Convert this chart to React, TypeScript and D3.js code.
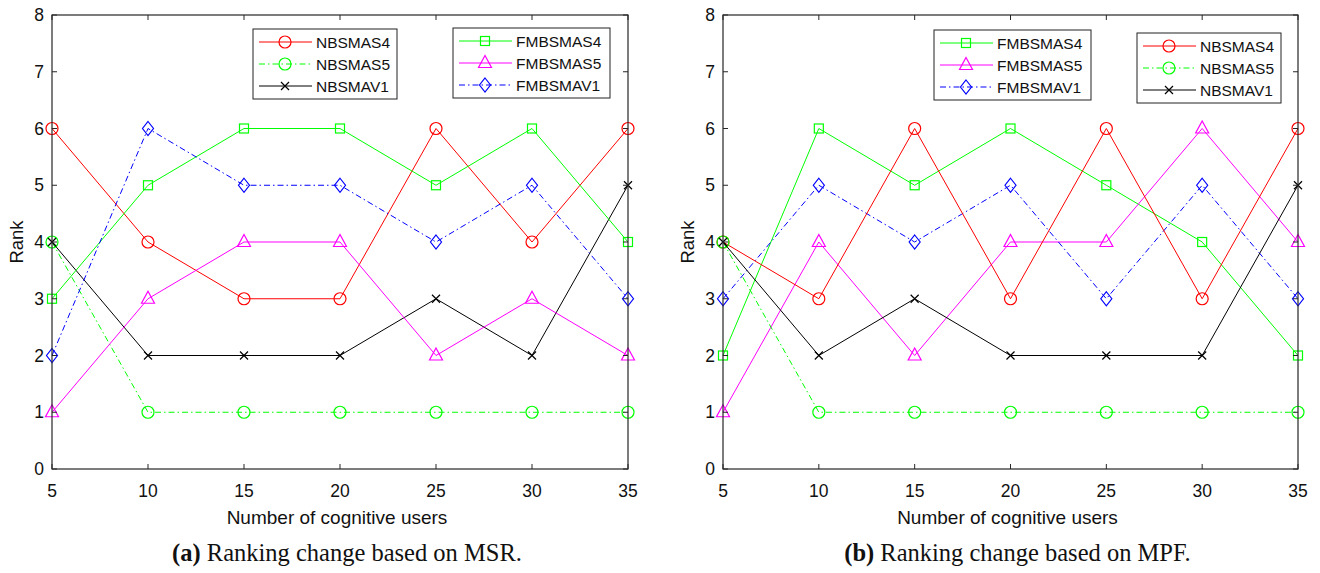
import React from 'react';
import * as d3 from 'd3';

const users = [5, 10, 15, 20, 25, 30, 35];
const rankTicks = [0, 1, 2, 3, 4, 5, 6, 7, 8];

// (a) MSR
const msrNBSMAS4 = [6, 4, 3, 3, 6, 4, 6];
const msrNBSMAS5 = [4, 1, 1, 1, 1, 1, 1];
const msrNBSMAV1 = [4, 2, 2, 2, 3, 2, 5];
const msrFMBSMAS4 = [3, 5, 6, 6, 5, 6, 4];
const msrFMBSMAS5 = [1, 3, 4, 4, 2, 3, 2];
const msrFMBSMAV1 = [2, 6, 5, 5, 4, 5, 3];

// (b) MPF
const mpfFMBSMAS4 = [2, 6, 5, 6, 5, 4, 2];
const mpfFMBSMAS5 = [1, 4, 2, 4, 4, 6, 4];
const mpfFMBSMAV1 = [3, 5, 4, 5, 3, 5, 3];
const mpfNBSMAS4 = [4, 3, 6, 3, 6, 3, 6];
const mpfNBSMAS5 = [4, 1, 1, 1, 1, 1, 1];
const mpfNBSMAV1 = [4, 2, 3, 2, 2, 2, 5];

type Marker = 'circle' | 'square' | 'triangle' | 'diamond' | 'x';
type Series = { name: string; values: number[]; color: string; marker: Marker; dashed: boolean };

const style: Record<string, { color: string; marker: Marker; dashed: boolean }> = {
  NBSMAS4: { color: '#ff0000', marker: 'circle', dashed: false },
  NBSMAS5: { color: '#00ff00', marker: 'circle', dashed: true },
  NBSMAV1: { color: '#000000', marker: 'x', dashed: false },
  FMBSMAS4: { color: '#00ff00', marker: 'square', dashed: false },
  FMBSMAS5: { color: '#ff00ff', marker: 'triangle', dashed: false },
  FMBSMAV1: { color: '#0000ff', marker: 'diamond', dashed: true },
};

const mk = (name: string, values: number[]): Series => ({ name, values, ...style[name] });

const FONT = 'Liberation Sans, Arial, Helvetica, sans-serif';
const DASH = '6,3,1.5,3';

function MarkerShape({ m, x, y, c }: { m: Marker; x: number; y: number; c: string }) {
  const sw = 1.2;
  if (m === 'circle') return <circle cx={x} cy={y} r={6} fill="none" stroke={c} strokeWidth={sw} />;
  if (m === 'square') return <rect x={x - 4.5} y={y - 4.5} width={9} height={9} fill="none" stroke={c} strokeWidth={sw} />;
  if (m === 'triangle')
    return <path d={`M${x},${y - 7.5}L${x + 6.5},${y + 4.5}L${x - 6.5},${y + 4.5}Z`} fill="none" stroke={c} strokeWidth={sw} />;
  if (m === 'diamond')
    return <path d={`M${x},${y - 7}L${x + 5.5},${y}L${x},${y + 7}L${x - 5.5},${y}Z`} fill="none" stroke={c} strokeWidth={sw} />;
  return <path d={`M${x - 4},${y - 4}L${x + 4},${y + 4}M${x - 4},${y + 4}L${x + 4},${y - 4}`} stroke={c} strokeWidth={sw} />;
}

function Legend({ x, y, w, items }: { x: number; y: number; w: number; items: Series[] }) {
  return (
    <g transform={`translate(${x},${y})`}>
      <rect x={0} y={0} width={w} height={70} fill="#fff" stroke="#222" strokeWidth={1} />
      {items.map((s, i) => {
        const ly = 13 + i * 22;
        return (
          <g key={s.name}>
            <line x1={6} x2={59} y1={ly} y2={ly} stroke={s.color} strokeWidth={1} strokeDasharray={s.dashed ? DASH : undefined} />
            <MarkerShape m={s.marker} x={32} y={ly} c={s.color} />
            <text x={63} y={ly + 5.5} fontSize={15.5} fontFamily={FONT} fill="#111">{s.name}</text>
          </g>
        );
      })}
    </g>
  );
}

function Panel({ x0, x1, series, legends, label, caption }: {
  x0: number; x1: number; series: Series[];
  legends: { x: number; y: number; w: number; items: Series[] }[];
  label: string; caption: string;
}) {
  const top = 15, bottom = 469;
  const x = d3.scaleLinear().domain([5, 35]).range([x0, x1]);
  const y = d3.scaleLinear().domain([0, 8]).range([bottom, top]);
  const line = d3.line<number>().x((_, i) => x(users[i])).y(d => y(d));
  const cx = (x0 + x1) / 2;
  return (
    <g>
      {series.map(s => (
        <g key={s.name}>
          <path d={line(s.values) || ''} fill="none" stroke={s.color} strokeWidth={1} strokeDasharray={s.dashed ? DASH : undefined} />
          {s.values.map((v, i) => <MarkerShape key={i} m={s.marker} x={x(users[i])} y={y(v)} c={s.color} />)}
        </g>
      ))}
      <rect x={x0} y={top} width={x1 - x0} height={bottom - top} fill="none" stroke="#262626" strokeWidth={1.2} />
      {users.map(u => (
        <g key={u}>
          <line x1={x(u)} x2={x(u)} y1={bottom} y2={bottom - 5} stroke="#262626" />
          <line x1={x(u)} x2={x(u)} y1={top} y2={top + 5} stroke="#262626" />
          <text x={x(u)} y={497} textAnchor="middle" fontSize={17.5} fontFamily={FONT} fill="#111">{u}</text>
        </g>
      ))}
      {rankTicks.map(t => (
        <g key={t}>
          <line x1={x0} x2={x0 + 5} y1={y(t)} y2={y(t)} stroke="#262626" />
          <line x1={x1} x2={x1 - 5} y1={y(t)} y2={y(t)} stroke="#262626" />
          <text x={x0 - 8} y={y(t) + 6} textAnchor="end" fontSize={17.5} fontFamily={FONT} fill="#111">{t}</text>
        </g>
      ))}
      <text transform={`translate(${x0 - 29},${(top + bottom) / 2}) rotate(-90)`} textAnchor="middle" fontSize={18.5} fontFamily={FONT} fill="#111">Rank</text>
      <text x={cx - 3} y={524} textAnchor="middle" fontSize={19} fontFamily={FONT} fill="#111">Number of cognitive users</text>
      <text x={cx + 7} y={561} textAnchor="middle" fontSize={24.5} fontFamily="Liberation Serif, Times New Roman, serif" fill="#111">
        <tspan fontWeight="bold">{label}</tspan> {caption}
      </text>
      {legends.map((l, i) => <Legend key={i} {...l} />)}
    </g>
  );
}

export default function App() {
  const msrNB = [mk('NBSMAS4', msrNBSMAS4), mk('NBSMAS5', msrNBSMAS5), mk('NBSMAV1', msrNBSMAV1)];
  const msrFM = [mk('FMBSMAS4', msrFMBSMAS4), mk('FMBSMAS5', msrFMBSMAS5), mk('FMBSMAV1', msrFMBSMAV1)];
  const mpfFM = [mk('FMBSMAS4', mpfFMBSMAS4), mk('FMBSMAS5', mpfFMBSMAS5), mk('FMBSMAV1', mpfFMBSMAV1)];
  const mpfNB = [mk('NBSMAS4', mpfNBSMAS4), mk('NBSMAS5', mpfNBSMAS5), mk('NBSMAV1', mpfNBSMAV1)];
  return (
    <svg width={1320} height={573} style={{ position: 'absolute', left: 0, top: 0, background: '#fff' }}>
      <Panel x0={52} x1={628} series={[...msrNB, ...msrFM]}
        legends={[{ x: 253, y: 29, w: 144, items: msrNB }, { x: 453, y: 28, w: 157, items: msrFM }]}
        label="(a)" caption="Ranking change based on MSR." />
      <Panel x0={723} x1={1298} series={[...mpfFM, ...mpfNB]}
        legends={[{ x: 934, y: 30, w: 157, items: mpfFM }, { x: 1137, y: 33, w: 144, items: mpfNB }]}
        label="(b)" caption="Ranking change based on MPF." />
    </svg>
  );
}
